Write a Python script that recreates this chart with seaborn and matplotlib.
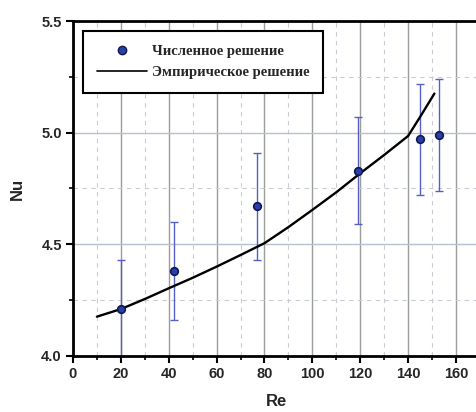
import pandas as pd
import matplotlib.pyplot as plt
import seaborn as sns
from matplotlib.ticker import MultipleLocator
from matplotlib.lines import Line2D

# numerical solution points with error bars
re_num = [20, 42, 77, 119, 145, 153]
nu_num = [4.21, 4.38, 4.67, 4.83, 4.97, 4.99]
nu_err = [0.22, 0.22, 0.24, 0.24, 0.25, 0.25]

# empirical curve
re_emp = [10, 20, 30, 40, 50, 60, 70, 80, 90, 100, 110, 120, 130, 140, 145, 151]
nu_emp = [4.176, 4.21, 4.255, 4.303, 4.35, 4.40, 4.452, 4.505, 4.577, 4.654,
          4.733, 4.818, 4.90, 4.985, 5.07, 5.175]

num = pd.DataFrame({'Re': re_num, 'Nu': nu_num, 'err': nu_err})
emp = pd.DataFrame({'Re': re_emp, 'Nu': nu_emp})

sns.set_style('white')
plt.rcParams['font.family'] = ['Liberation Sans', 'DejaVu Sans']

fig = plt.figure(figsize=(4.77, 4.12), dpi=100)
ax = fig.add_axes([0.153, 0.136, 0.853, 0.813])

# grid
ax.xaxis.set_major_locator(MultipleLocator(20))
ax.xaxis.set_minor_locator(MultipleLocator(10))
ax.yaxis.set_major_locator(MultipleLocator(0.5))
ax.yaxis.set_minor_locator(MultipleLocator(0.25))
ax.grid(True, which='major', axis='x', color='#9a9e98', lw=1.0, ls='-')
ax.grid(True, which='major', axis='y', color='#b8c0cc', lw=1.0, ls='-')
ax.grid(True, which='minor', color='#c8ccd4', lw=0.8, ls=(0, (4, 4)))
ax.set_axisbelow(True)

ax.errorbar(num['Re'], num['Nu'], yerr=num['err'], fmt='none', ecolor='#5560c0',
            elinewidth=1.0, capsize=3, capthick=1.0, zorder=2)
sns.lineplot(data=emp, x='Re', y='Nu', color='black', lw=1.7, ax=ax, zorder=3)
sns.scatterplot(data=num, x='Re', y='Nu', color='#2b3fa8', edgecolor='#101850',
                linewidth=1.2, s=30, ax=ax, zorder=4)

ax.set_xlim(0, 170)
ax.set_ylim(4.0, 5.5)

for side in ['left', 'bottom', 'top', 'right']:
    ax.spines[side].set_linewidth(2)
    ax.spines[side].set_color('black')

ax.tick_params(which='major', direction='out', length=5, width=1.5, color='black',
               labelsize=10.5, pad=3, bottom=True, left=True)
ax.tick_params(which='minor', direction='out', length=3, width=1.2, color='black',
               bottom=True, left=True)
for lab in ax.get_xticklabels() + ax.get_yticklabels():
    lab.set_fontweight('bold')

ax.set_xlabel('Re', fontsize=12, fontweight='bold', labelpad=9)
ax.set_ylabel('Nu', fontsize=12, fontweight='bold', labelpad=12)

handles = [
    Line2D([], [], ls='none', marker='o', color='#2b3fa8', markeredgecolor='#101850',
           markersize=6),
    Line2D([], [], color='black', lw=1.2),
]
leg = ax.legend(handles, ['Численное решение', 'Эмпирическое решение'],
                loc='upper left', bbox_to_anchor=(0.025, 0.97), fancybox=False,
                framealpha=1, edgecolor='black', handlelength=3.4,
                handletextpad=0.35, borderpad=0.95, labelspacing=0.55,
                borderaxespad=0,
                prop={'family': 'Liberation Serif', 'weight': 'bold', 'size': 10.5})
leg.get_frame().set_linewidth(1.5)

fig.savefig('out.png', dpi=100)
